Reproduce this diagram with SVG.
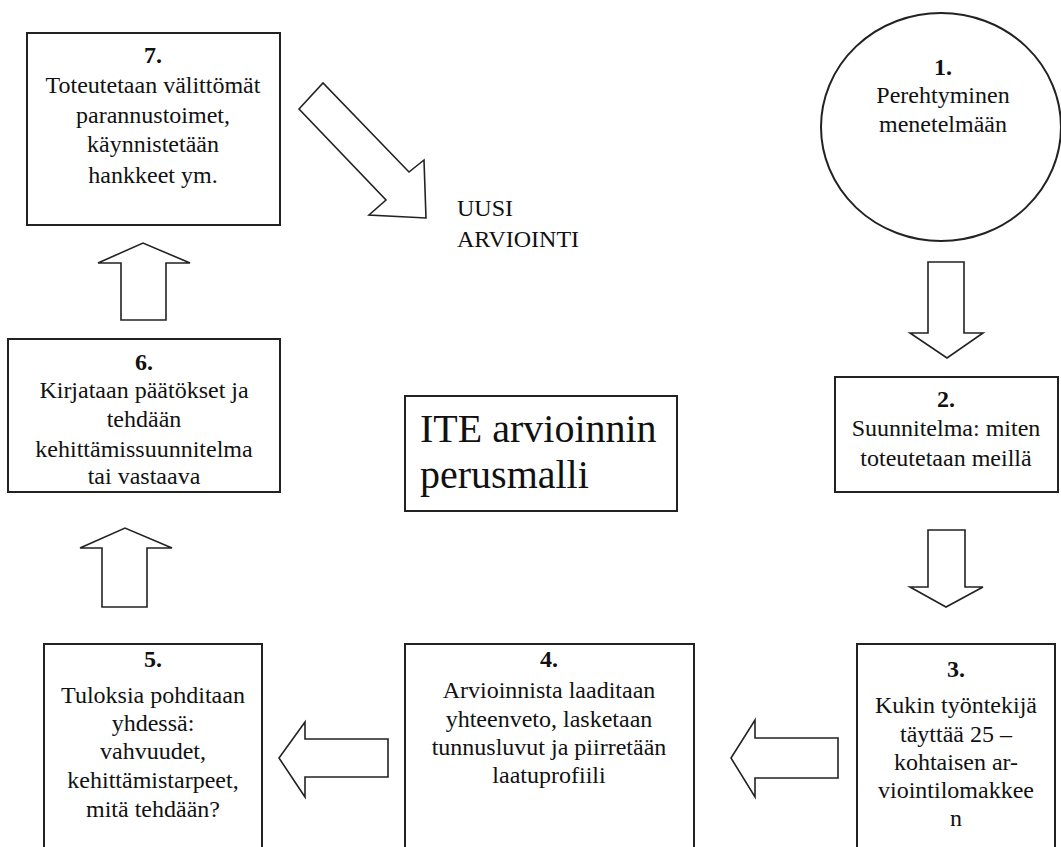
<svg xmlns="http://www.w3.org/2000/svg" width="1061" height="847" viewBox="0 0 1061 847">
  <style>
    .box { fill: #fff; stroke: #222; stroke-width: 2; }
    .arrow { fill: #fff; stroke: #222; stroke-width: 1.6; stroke-linejoin: miter; }
    .num { font-weight: bold; font-size: 24px; }
  </style>
  <rect width="1061" height="847" fill="#fff"/>

  <!-- flow arrows -->
  <g id="connectors">
    <polygon class="arrow" points="928,262 964,262 964,333 983,333 947,358 910,333 928,333"/>
    <polygon class="arrow" points="928,530 965,530 965,587 983,587 946,607 910,587 928,587"/>
    <polygon class="arrow" points="838,738 838,778 755,778 755,797 731,758 755,720 755,738"/>
    <polygon class="arrow" points="388,739 388,777 305,777 305,797 279,758 305,722 305,739"/>
    <polygon class="arrow" points="102,607 147,607 147,548 172,548 125,528 80,548 102,548"/>
    <polygon class="arrow" points="121,320 166,320 166,263 190,263 143,243 98,263 121,263"/>
    <polygon class="arrow" points="299,109 323,83 409,172 424,160 426,218 369,215 386,200"/>
  </g>

  <!-- step texts are centred in their box; numbers are bold -->
  <g font-family="Liberation Serif, serif" font-size="24" fill="#111" text-anchor="middle">
    <g id="step1">
      <ellipse class="box" cx="941" cy="127" rx="120" ry="114"/>
      <text class="num" x="943" y="75">1.</text>
      <text x="943" y="103">Perehtyminen</text>
      <text x="943" y="132">menetelmään</text>
    </g>

    <g id="step2">
      <rect class="box" x="835" y="377" width="223" height="115"/>
      <text class="num" x="946" y="407">2.</text>
      <text x="946" y="436">Suunnitelma: miten</text>
      <text x="946" y="466">toteutetaan meillä</text>
    </g>

    <g id="step3">
      <rect class="box" x="857" y="644" width="198" height="210"/>
      <text class="num" x="956" y="677">3.</text>
      <text x="956" y="713">Kukin työntekijä</text>
      <text x="956" y="742">täyttää 25 –</text>
      <text x="956" y="770">kohtaisen ar-</text>
      <text x="956" y="798">viointilomakkee</text>
      <text x="956" y="826">n</text>
    </g>

    <g id="step4">
      <rect class="box" x="405" y="644" width="289" height="210"/>
      <text class="num" x="549" y="667">4.</text>
      <text x="549" y="698">Arvioinnista laaditaan</text>
      <text x="549" y="727">yhteenveto, lasketaan</text>
      <text x="549" y="755">tunnusluvut ja piirretään</text>
      <text x="549" y="783">laatuprofiili</text>
    </g>

    <g id="step5">
      <rect class="box" x="44" y="644" width="218" height="210"/>
      <text class="num" x="153" y="667">5.</text>
      <text x="153" y="703">Tuloksia pohditaan</text>
      <text x="153" y="731">yhdessä:</text>
      <text x="153" y="759">vahvuudet,</text>
      <text x="153" y="788">kehittämistarpeet,</text>
      <text x="153" y="817">mitä tehdään?</text>
    </g>

    <g id="step6">
      <rect class="box" x="8" y="339" width="272" height="153"/>
      <text class="num" x="144" y="370">6.</text>
      <text x="144" y="398">Kirjataan päätökset ja</text>
      <text x="144" y="427">tehdään</text>
      <text x="144" y="457">kehittämissuunnitelma</text>
      <text x="144" y="484">tai vastaava</text>
    </g>

    <g id="step7">
      <rect class="box" x="27" y="33" width="253" height="192"/>
      <text class="num" x="153" y="63">7.</text>
      <text x="153" y="93">Toteutetaan välittömät</text>
      <text x="153" y="123">parannustoimet,</text>
      <text x="153" y="152">käynnistetään</text>
      <text x="153" y="183">hankkeet ym.</text>
    </g>
  </g>

  <g id="restart" font-family="Liberation Serif, serif" font-size="24" fill="#111">
    <text x="457" y="216">UUSI</text>
    <text x="457" y="247">ARVIOINTI</text>
  </g>

  <g id="title" font-family="Liberation Serif, serif" font-size="40" fill="#111">
    <rect class="box" x="405" y="396" width="272" height="115"/>
    <text x="420" y="442">ITE arvioinnin</text>
    <text x="420" y="488">perusmalli</text>
  </g>
</svg>
